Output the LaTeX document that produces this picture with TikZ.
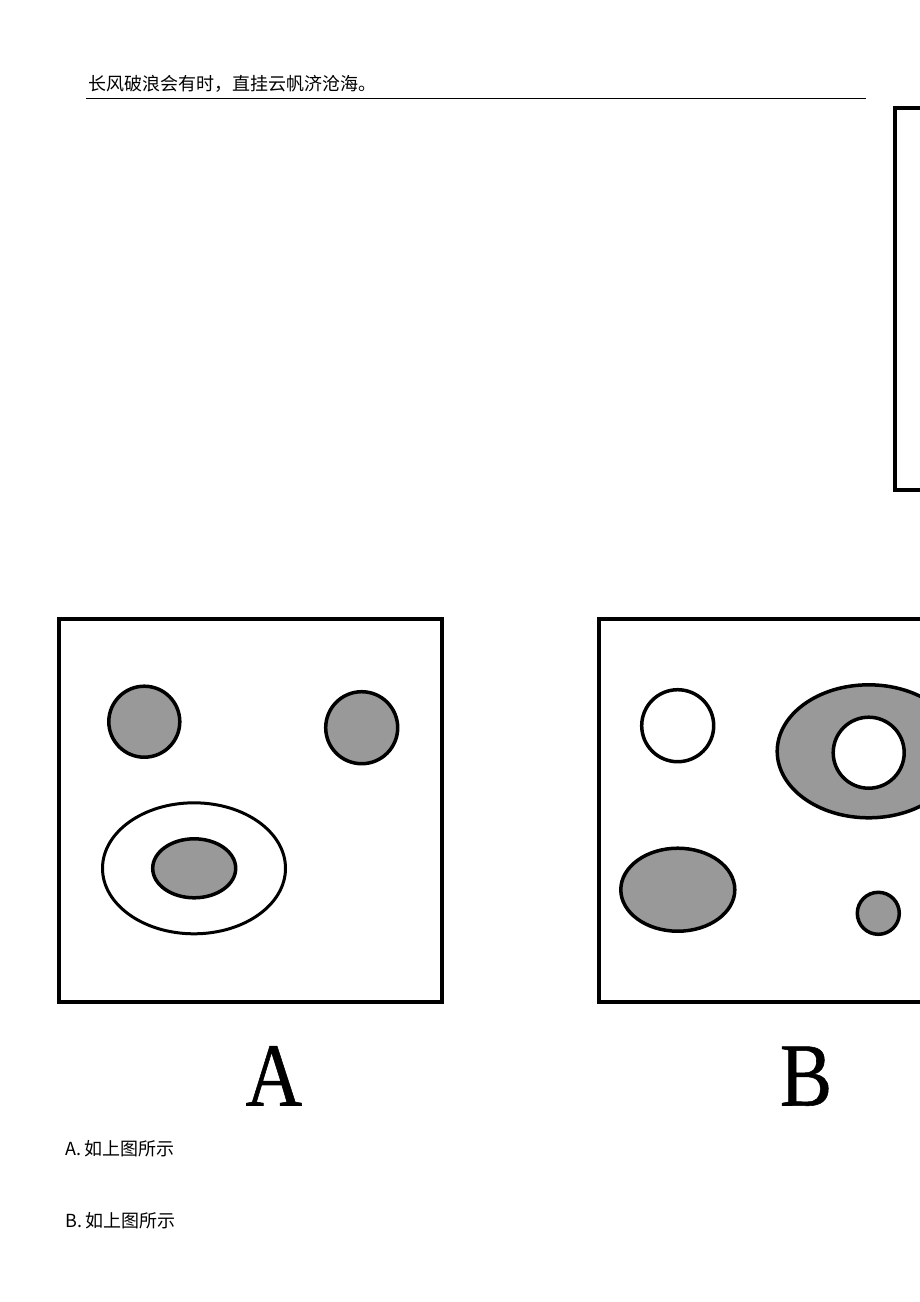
\documentclass[tikz,border=0pt]{standalone}
\usepackage{fontspec}
\setmainfont{Liberation Serif}
\newfontfamily\cjk{Noto Sans CJK SC}
\newfontfamily\serifA[FakeStretch=0.87,FakeBold=0.6]{Liberation Serif}
\definecolor{shade}{HTML}{999999}
\tikzset{
  frame/.style={draw=black, line width=4pt},
  blob/.style={draw=black, line width=3.5pt, fill=shade},
  hole/.style={draw=black, line width=3.5pt, fill=white},
  thin/.style={draw=black, line width=3pt, fill=white},
  cjktext/.style={inner sep=0pt, anchor=base west, font=\cjk\fontsize{18pt}{20pt}\selectfont},
  biglabel/.style={inner sep=0pt, anchor=base, font=\serifA\fontsize{90pt}{92pt}\selectfont}
}
\begin{document}
\begin{tikzpicture}[x=1pt, y=-1pt]
\useasboundingbox (0,0) rectangle (920,1302);
\clip (0,0) rectangle (920,1302);
\fill[white] (0,0) rectangle (920,1302);
% header
\node[cjktext] (head) at (88,90) {长风破浪会有时，直挂云帆济沧海。};
\coordinate (ruleL) at (86,98.5);
\coordinate (ruleR) at (866,98.5);
\draw[line width=1pt] (ruleL) -- (ruleR);
% right box (cut off)
\draw[frame] (894.5,107.5) rectangle (940,489.5);
% box A
\draw[frame] (58.5,618.5) rectangle (442,1001.5);
\draw[blob] (144.3,721.7) circle[radius=35.5pt];
\draw[blob] (361.7,727.7) circle[radius=36pt];
\draw[thin] (194,868.3) ellipse[x radius=91.5pt, y radius=65.5pt];
\draw[blob] (194.2,868.3) ellipse[x radius=41.5pt, y radius=29.5pt];
% box B
\draw[frame] (598.5,618.5) rectangle (960,1001.5);
\draw[hole] (677.7,725.7) circle[radius=36pt];
\draw[blob] (868.7,751.3) ellipse[x radius=91.5pt, y radius=66.5pt];
\draw[hole] (868.7,752.7) circle[radius=35.5pt];
\draw[blob] (677.8,889.7) ellipse[x radius=57pt, y radius=41.5pt];
\draw[blob] (878.3,913.3) circle[radius=21pt];
% labels
\node[biglabel] (labA) at (274,1105.5) {A};
\node[biglabel] (labB) at (806,1105.5) {B};
% options
\node[cjktext] (optA) at (65,1155) {A.\hspace{3pt}如上图所示};
\node[cjktext] (optB) at (65,1227) {B.\hspace{3pt}如上图所示};
\end{tikzpicture}
\end{document}
